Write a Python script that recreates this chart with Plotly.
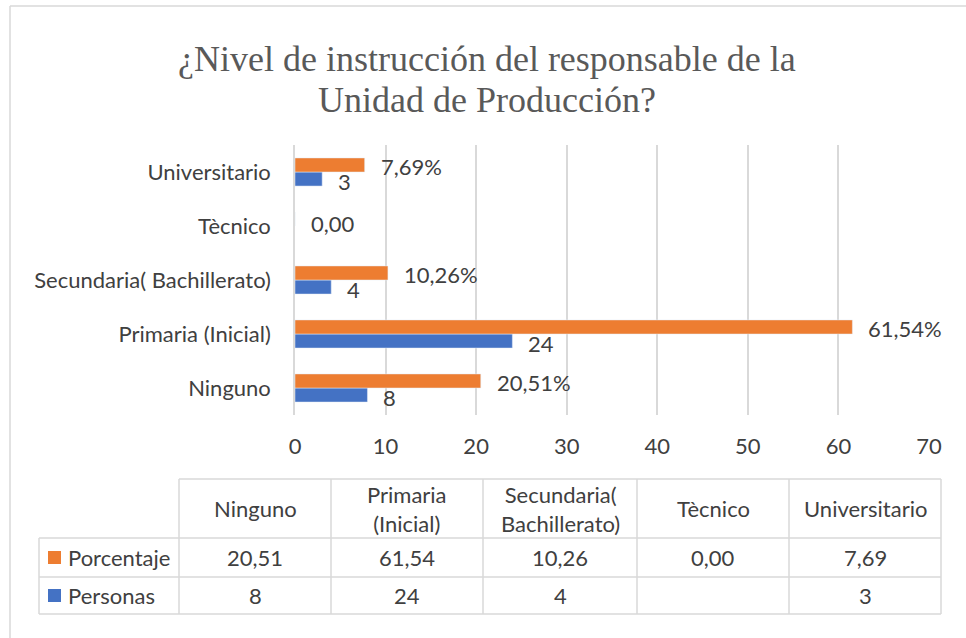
import plotly.graph_objects as go

categories = ["Ninguno", "Primaria (Inicial)", "Secundaria( Bachillerato)", "Tècnico", "Universitario"]
table_headers = ["Ninguno", "Primaria<br>(Inicial)", "Secundaria(<br>Bachillerato)", "Tècnico", "Universitario"]
porcentaje = [20.51, 61.54, 10.26, 0.00, 7.69]
personas = [8, 24, 4, None, 3]
x_ticks = [0, 10, 20, 30, 40, 50, 60, 70]
series_names = ["Porcentaje", "Personas"]
title_lines = ["¿Nivel de instrucción del responsable de la", "Unidad de Producción?"]

W, H = 966, 638
ORANGE = "#ED7D31"
BLUE = "#4472C4"
TXT = "#404040"
GRID = "#D9D9D9"
FONT = "Lato"
FS = 22

def px(x):
    return x / W

def py(y):
    return 1 - y / H

def fmt(v, dec=2):
    return f"{v:.{dec}f}".replace(".", ",")

fig = go.Figure()
fig.add_trace(go.Bar(y=categories, x=personas, orientation="h", name="Personas",
                     marker=dict(color=BLUE), showlegend=False))
fig.add_trace(go.Bar(y=categories, x=porcentaje, orientation="h", name="Porcentaje",
                     marker=dict(color=ORANGE), showlegend=False))

ann = []
shapes = []
tfont = dict(family=FONT, size=FS, color=TXT)
# data labels
for c, v in zip(categories, porcentaje):
    if v == 0:
        ann.append(dict(x=v, y=c, xref="x", yref="y", text=fmt(v), showarrow=False,
                        xanchor="left", xshift=14, yshift=3, font=tfont))
    else:
        ann.append(dict(x=v, y=c, xref="x", yref="y", text=fmt(v) + "%", showarrow=False,
                        xanchor="left", xshift=14, yshift=6, font=tfont))
for c, v in zip(categories, personas):
    if v is None:
        continue
    ann.append(dict(x=v, y=c, xref="x", yref="y", text=str(v), showarrow=False,
                    xanchor="left", xshift=14, yshift=-9, font=tfont))

# data table
col_edges = [179, 331, 483, 637, 789, 941]
row_edges = [479, 538, 577, 614]
label_left = 39
line = dict(color=GRID, width=1.5)
shapes.append(dict(type="line", xref="paper", yref="paper", x0=px(col_edges[0]), x1=px(col_edges[-1]),
                   y0=py(row_edges[0]), y1=py(row_edges[0]), line=line))
for r in row_edges[1:]:
    shapes.append(dict(type="line", xref="paper", yref="paper", x0=px(label_left), x1=px(col_edges[-1]),
                       y0=py(r), y1=py(r), line=line))
for cx in col_edges:
    shapes.append(dict(type="line", xref="paper", yref="paper", x0=px(cx), x1=px(cx),
                       y0=py(row_edges[0]), y1=py(row_edges[-1]), line=line))
shapes.append(dict(type="line", xref="paper", yref="paper", x0=px(label_left), x1=px(label_left),
                   y0=py(row_edges[1]), y1=py(row_edges[-1]), line=line))

for i, h in enumerate(table_headers):
    cxm = (col_edges[i] + col_edges[i + 1]) / 2
    ann.append(dict(x=px(cxm), y=py((row_edges[0] + row_edges[1]) / 2), xref="paper", yref="paper",
                    text=h, showarrow=False, xanchor="center", yanchor="middle", font=tfont))
    ann.append(dict(x=px(cxm), y=py((row_edges[1] + row_edges[2]) / 2), xref="paper", yref="paper",
                    text=fmt(porcentaje[i]), showarrow=False, xanchor="center", yanchor="middle", font=tfont))
    if personas[i] is not None:
        ann.append(dict(x=px(cxm), y=py((row_edges[2] + row_edges[3]) / 2), xref="paper", yref="paper",
                        text=str(personas[i]), showarrow=False, xanchor="center", yanchor="middle", font=tfont))

for k, (nm, col) in enumerate(zip(series_names, [ORANGE, BLUE])):
    yc = (row_edges[k + 1] + row_edges[k + 2]) / 2
    shapes.append(dict(type="rect", xref="paper", yref="paper", x0=px(48), x1=px(61),
                       y0=py(yc - 6.5), y1=py(yc + 6.5), fillcolor=col, line=dict(width=0)))
    ann.append(dict(x=px(66), y=py(yc), xref="paper", yref="paper", text=nm, showarrow=False,
                    xanchor="left", yanchor="middle", font=tfont))

# title (two lines)
for ln, yc in zip(title_lines, [59, 100]):
    ann.append(dict(x=px(487), y=py(yc), xref="paper", yref="paper", text=ln, showarrow=False,
                    xanchor="center", yanchor="middle",
                    font=dict(family="Liberation Serif", size=36, color="#595959")))

# chart frame (left and top edges visible)
shapes.append(dict(type="line", xref="paper", yref="paper", x0=px(10), x1=px(10), y0=py(6), y1=0,
                   line=dict(color=GRID, width=1.5)))
shapes.append(dict(type="line", xref="paper", yref="paper", x0=px(10), x1=1, y0=py(6), y1=py(6),
                   line=dict(color=GRID, width=1.5)))

fig.update_layout(
    width=W, height=H,
    margin=dict(l=0, r=0, t=0, b=0),
    paper_bgcolor="white", plot_bgcolor="white",
    barmode="group", bargap=0.48, bargroupgap=0,
    xaxis=dict(domain=[px(295), px(929)], range=[0, 70], tickvals=x_ticks,
               showgrid=True, gridcolor=GRID, gridwidth=1.5, zeroline=False,
               ticks="outside", ticklen=12, tickcolor="rgba(0,0,0,0)",
               tickfont=tfont, fixedrange=True, automargin=False),
    yaxis=dict(domain=[py(415), py(145)], categoryorder="array", categoryarray=categories,
               showline=True, linecolor=GRID, linewidth=1.5,
               ticks="outside", ticklen=18, tickcolor="rgba(0,0,0,0)",
               tickfont=tfont, fixedrange=True, automargin=False),
    annotations=ann, shapes=shapes,
    font=dict(family=FONT, color=TXT),
)

fig.write_html("out.html", config={"displayModeBar": False},
               post_script="document.body.style.margin='0px';")
